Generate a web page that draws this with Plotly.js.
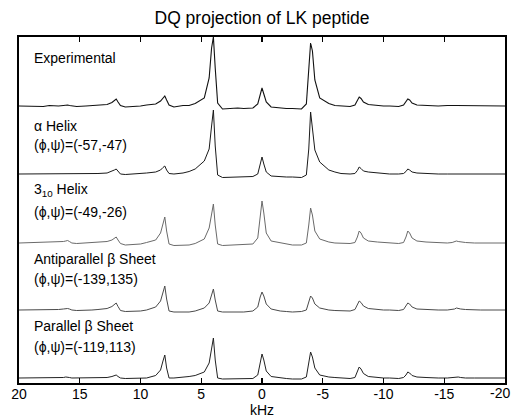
<!DOCTYPE html>
<html>
<head>
<meta charset="utf-8">
<script src="https://cdn.plot.ly/plotly-3.0.1.min.js"></script>
<style>html,body{margin:0;padding:0;background:#fff;}#chart{width:513px;height:418px;}</style>
</head>
<body>
<div id="chart"></div>
<script>
// Frequency grid (kHz), shared by all spectra
var kHz = [
  20, 18,
  17.5, 16.75, 16.35, 16.15, 16, 15.85, 15.65, 15.25, 14.5,
  14,
  13.5, 12.75, 12.35, 12.15, 12, 11.85, 11.65, 11.25, 10.5,
  10,
  9.5, 8.75, 8.35, 8.15, 8, 7.85, 7.65, 7.25, 6.5,
  6,
  5.5, 4.75, 4.35, 4.15, 4, 3.85, 3.65, 3.25, 2.5,
  2,
  1.5, 0.75, 0.35, 0.15, 0, -0.15, -0.35, -0.75, -1.5,
  -2,
  -2.5, -3.25, -3.65, -3.85, -4, -4.15, -4.35, -4.75, -5.5,
  -6,
  -6.5, -7.25, -7.65, -7.85, -8, -8.15, -8.35, -8.75, -9.5,
  -10,
  -10.5, -11.25, -11.65, -11.85, -12, -12.15, -12.35, -12.75, -13.5,
  -14,
  -14.5, -15.25, -15.65, -15.85, -16, -16.15, -16.35, -16.75, -17.5,
  -18, -20
];

// Intensities (arbitrary units), relative to each spectrum's baseline
var experimental = [
  0, -0.5,
  0.5, 0, 0.5, 1, 1, 0.5, 0, -0.5, 0,
  0.5,
  0.5, 1.5, 3.5, 6, 7, 4, 0.5, -1, -0.5,
  0,
  1, 2, 5, 8.5, 10, 6, 1, -1, 0.5,
  0.5,
  2.5, 8, 28, 58, 69, 38, 3, -3, -2.5,
  -2,
  -2.5, -2, 2, 13, 18, 12, 4, -1, -2,
  -2.5,
  -2.5, -3, 2, 35, 63, 55, 26, 8, 2.5,
  0.5,
  0, -0.5, 1, 6, 9, 7.5, 4, 1.5, 0.5,
  0,
  0, -0.5, 1, 4.5, 7, 6, 3, 1, 0.5,
  0,
  0, 0.5, 0, 0.5, 0.5, 0.5, 0, 0.5, 0,
  0.5, 0
];
var alphaHelix = [
  0, 0,
  0, 0, 0, 0.5, 0.5, 0, 0, 0, 0,
  0,
  0.5, 1, 2.5, 4, 5, 2.5, 0, -0.5, 0,
  0.5,
  1, 2, 4, 6.5, 8, 4, 0.5, 0, 1,
  2.5,
  5, 13, 25, 48, 64, 28, -1, -3.5, -3,
  -3,
  -3, -2.5, 0, 10, 17, 10, 2, -2, -3,
  -3,
  -3, -3.5, -1, 25, 62, 46, 24, 12, 4,
  2,
  0.5, 0, 0.5, 3.5, 7, 5.5, 3, 2, 1,
  0.5,
  0, 0, 0.5, 2.5, 5, 4, 2, 1, 0.5,
  0,
  0, 0, 0, 0, 0.5, 0.5, 0, 0, 0,
  0, 0
];
var helix310 = [
  0, 0.5,
  0.5, 1, 1.5, 2, 2.5, 1.5, 0, -0.5, 0,
  0,
  0.5, 1.5, 3, 5, 6, 3, -0.5, -2, -1.5,
  -1,
  0.5, 3, 10, 20, 26, 12, -1, -2.5, -2,
  -2,
  -0.5, 4, 15, 30, 39, 18, -1, -2.5, -2,
  -2,
  -2, -1, 5, 28, 42, 30, 10, 2, 0,
  -1,
  -2, -2, 0, 18, 35, 28, 12, 4, 1,
  0,
  0, -0.5, 0.5, 6, 12, 10, 5, 2, 1,
  0.5,
  0, -0.5, 0.5, 6, 12, 10, 5, 2, 1,
  0.5,
  0, 0, 0.5, 1, 2, 1.5, 1, 0.5, 0,
  0, 0
];
var antiparallel = [
  0, 0,
  0, 0.5, 1, 1.5, 1.5, 1, 0, -0.5, -0.5,
  0,
  0.5, 1.5, 3.5, 6, 7, 3.5, -0.5, -1.5, -1.5,
  -1,
  0, 3, 9, 19, 24, 11, -1, -2, -2,
  -2,
  -1, 2, 7, 16, 21, 10, -1, -2, -2,
  -2,
  -2, -1, 3, 13, 18, 14, 6, 1, -1,
  -1.5,
  -2, -1.5, 0, 8, 14, 12, 6, 2, 0,
  -0.5,
  -1, -1, 0.5, 5, 9, 7.5, 4, 1.5, 0.5,
  0,
  0, -0.5, 0.5, 4, 7, 6, 3, 1, 0.5,
  0,
  0, 0, 0.5, 1, 2, 1.5, 1, 0.5, 0,
  0, 0
];
var parallel = [
  0, 0,
  0, 0, 0.5, 1, 1, 0.5, 0, 0, 0,
  0,
  0, 0.5, 1.5, 2.5, 3, 1.5, 0, -0.5, -0.5,
  -0.5,
  0, 2.5, 8, 17, 23, 10, 0, 0, 0.5,
  1.5,
  2.5, 6, 15, 31, 40, 18, 0, -1, -1,
  -1,
  -1, -0.5, 3, 17, 24, 18, 7, 1.5, 0,
  -0.5,
  -1, -1, 1, 14, 26, 21, 10, 3, 1,
  0.5,
  0, -0.5, 0.5, 6, 11, 9, 4.5, 1.5, 0.5,
  0,
  0, -0.5, 0.5, 3, 6, 5, 2.5, 1, 0.5,
  0,
  0, 0, 0.5, 1, 1.5, 1, 0.5, 0, 0,
  0, 0
];

var seriesNames = ["Experimental", "α Helix", "3<sub>10</sub> Helix", "Antiparallel β Sheet", "Parallel β Sheet"];
var seriesData = [experimental, alphaHelix, helix310, antiparallel, parallel];
var anglesText = [null, "(ϕ,ψ)=(-57,-47)", "(ϕ,ψ)=(-49,-26)", "(ϕ,ψ)=(-139,135)", "(ϕ,ψ)=(-119,113)"];
var xTicks = [20, 15, 10, 5, 0, -5, -10, -15, -20];

// ---- layout / styling (not data) ----
var W = 513, H = 418;
var mL = 19, mR = 8, mT = 37, mB = 35;
var plotW = W - mL - mR;
var plotH = H - mT - mB;           // 346
var baselinePx = [106, 174, 243, 310, 378];   // vertical position of each spectrum baseline (px from top)
var colors = ["#111111", "#1a1a1a", "#6a6a6a", "#4a4a4a", "#222222"];
var widths = [1.1, 1.0, 1.0, 1.0, 1.0];
var nameY = [58, 126, 190, 259, 326];
var angY = [null, 145, 212, 279, 347];

// last tick label is drawn as an annotation, right-aligned to the page edge
var lastTick = xTicks[xTicks.length - 1];
var tickText = xTicks.map(function (v) { return v === lastTick ? "" : String(v); });

var traces = [];
var layout = {
  width: W, height: H,
  margin: {l: mL, r: mR, t: mT, b: mB, pad: 0},
  paper_bgcolor: "#fff", plot_bgcolor: "rgba(0,0,0,0)",
  showlegend: false,
  font: {family: "Liberation Sans, Arial, sans-serif", color: "#000", size: 14},
  title: {text: "DQ projection of LK peptide", font: {size: 17.5, color: "#000"},
          x: 0.5, xref: "paper", y: 1 - 18 / H, yref: "container", yanchor: "middle"},
  xaxis: {
    range: [20, -20], tickvals: xTicks, ticktext: tickText,
    ticks: "inside", ticklen: 5, tickwidth: 1.2, tickcolor: "#000",
    showline: true, linecolor: "#000", linewidth: 1.8, mirror: "ticks",
    showgrid: false, zeroline: false,
    tickfont: {size: 14}, ticklabelstandoff: -3, ticklabeloverflow: "allow",
    title: {text: "kHz", font: {size: 14}, standoff: 0}
  },
  annotations: [{
    text: String(lastTick), xref: "paper", yref: "paper",
    x: (W - 1 - mL) / plotW, y: (H - mB - 393) / plotH,
    xanchor: "right", yanchor: "middle", showarrow: false, font: {size: 14}
  }]
};

for (var i = 0; i < seriesData.length; i++) {
  var base = H - mB - baselinePx[i];   // baseline height above plot bottom
  var axName = i === 0 ? "yaxis" : "yaxis" + (i + 1);
  var ax = {
    range: [-base, plotH - base], domain: [0, 1],
    showticklabels: false, ticks: "", showgrid: false, zeroline: false, fixedrange: true
  };
  if (i === 0) {
    ax.showline = true; ax.linecolor = "#000"; ax.linewidth = 1.8; ax.mirror = true;
  } else {
    ax.overlaying = "y"; ax.visible = false;
  }
  layout[axName] = ax;
  traces.push({
    x: kHz, y: seriesData[i], type: "scatter", mode: "lines",
    yaxis: i === 0 ? "y" : "y" + (i + 1),
    line: {color: colors[i], width: widths[i]},
    hoverinfo: "skip"
  });
  layout.annotations.push({
    text: seriesNames[i], xref: "paper", yref: "paper",
    x: (32 - mL) / plotW, y: (H - mB - nameY[i]) / plotH,
    xanchor: "left", yanchor: "middle", showarrow: false, font: {size: 14}
  });
  if (anglesText[i]) {
    layout.annotations.push({
      text: anglesText[i], xref: "paper", yref: "paper",
      x: (32 - mL) / plotW, y: (H - mB - angY[i]) / plotH,
      xanchor: "left", yanchor: "middle", showarrow: false, font: {size: 14}
    });
  }
}

Plotly.newPlot("chart", traces, layout, {displayModeBar: false, staticPlot: true});
</script>
</body>
</html>
